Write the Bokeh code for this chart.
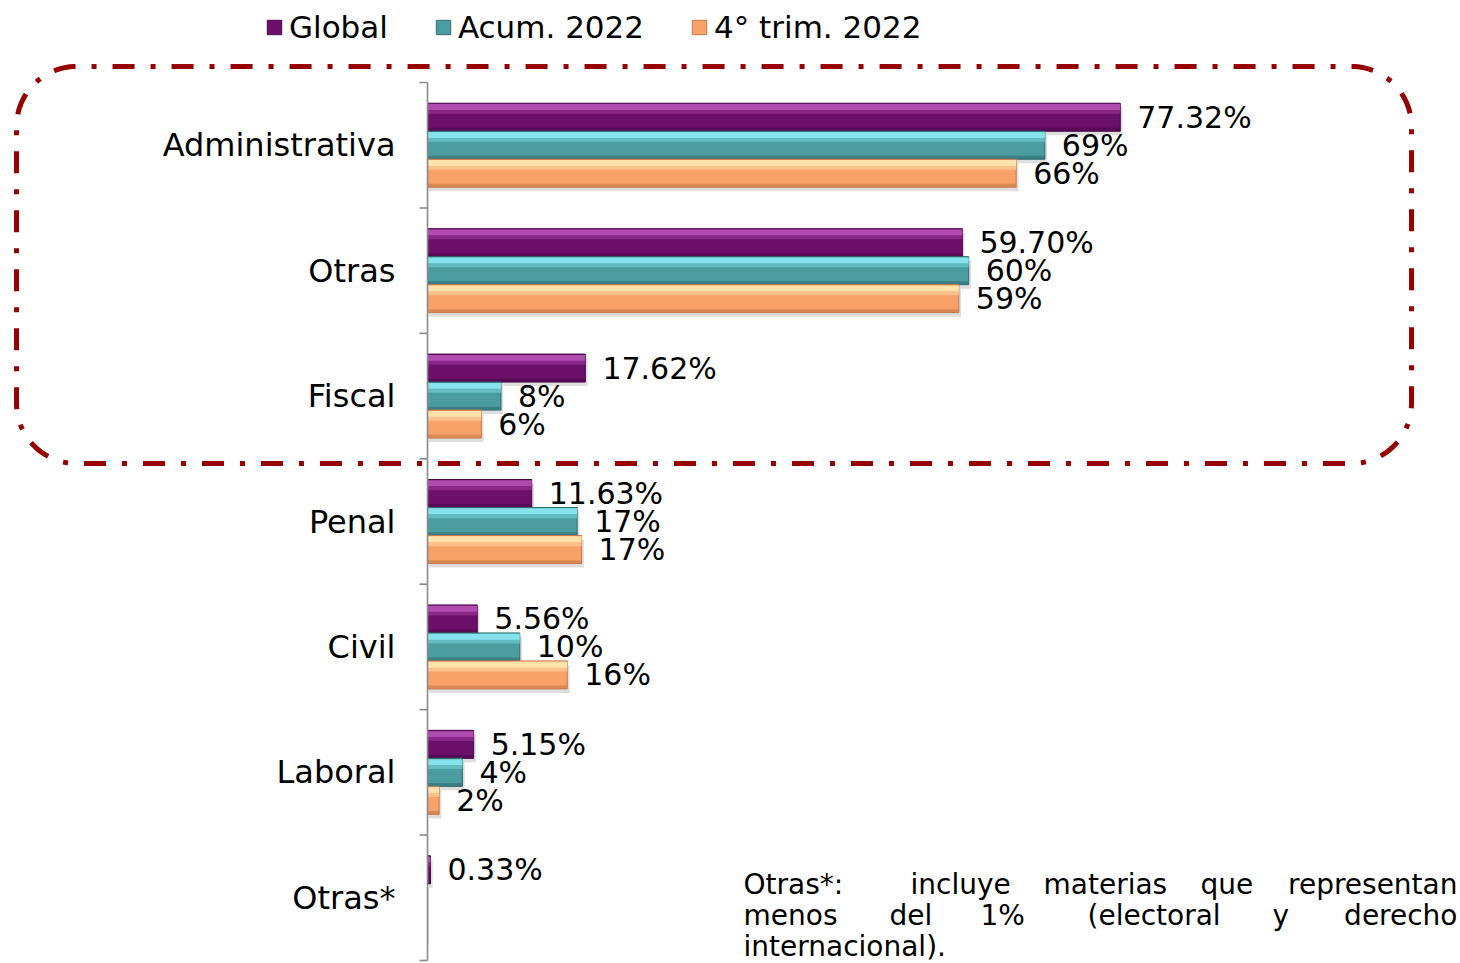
import numpy as np
from bokeh.plotting import figure
from bokeh.models import Range1d, ColumnDataSource, Legend, LegendItem
from bokeh.core.properties import value
from bokeh.embed import file_html
from bokeh.resources import INLINE

# ---------------- data ----------------
categories = ["Administrativa", "Otras", "Fiscal", "Penal", "Civil", "Laboral", "Otras*"]
series_names = ["Global", "Acum. 2022", "4° trim. 2022"]
global_vals = [77.32, 59.70, 17.62, 11.63, 5.56, 5.15, 0.33]
acum_vals = [68.9, 60.4, 8.2, 16.7, 10.3, 3.9, 0.0]
trim_vals = [65.7, 59.3, 6.0, 17.2, 15.6, 1.3, 0.0]
global_labels = ["77.32%", "59.70%", "17.62%", "11.63%", "5.56%", "5.15%", "0.33%"]
acum_labels = ["69%", "60%", "8%", "17%", "10%", "4%", ""]
trim_labels = ["66%", "59%", "6%", "17%", "16%", "2%", ""]
note_line1 = ["Otras*:", "incluye", "materias", "que", "representan"]
note_line2 = ["menos", "del", "1%", "(electoral", "y", "derecho"]
note_line3 = ["internacional)."]

# ---------------- layout helpers (pixel geometry) ----------------
W, H = 1460, 963
X0 = 427.0          # px of 0 %
S = 8.96            # px per 1 %
AX_TOP, AX_BOT = 82.0, 960.0
BAND = (AX_BOT - AX_TOP) / len(categories)
FONT = value("DejaVu Sans")


def rx(px):  # image x px -> data x
    return (px - X0) / S


def ry(py):  # image y px -> data y
    return (AX_BOT - py) / BAND


p = figure(width=W, height=H, output_backend="svg", toolbar_location=None,
           x_range=Range1d(rx(0), rx(W)), y_range=Range1d(ry(H), ry(0)),
           x_axis_location=None, y_axis_location=None, min_border=0,
           background_fill_color="white", border_fill_color="white")
p.outline_line_color = None
p.xgrid.grid_line_color = None
p.ygrid.grid_line_color = None

n = len(categories)
centers = np.array([n - 0.5 - i for i in range(n)])
bh = 28.0 / BAND

styles = [
    dict(base="#6c0f6a", hi="#b04cb0", mid="#8a2888", dark="#4a0748"),
    dict(base="#4a9ca1", hi="#86e3ec", mid="#62bcc2", dark="#2f6d71"),
    dict(base="#f8a168", hi="#ffe2aa", mid="#fcc08a", dark="#c8784a"),
]
vals_list = [global_vals, acum_vals, trim_vals]
labels_list = [global_labels, acum_labels, trim_labels]
offs = [bh, 0.0, -bh]

# shadows
for vals, off in zip(vals_list, offs):
    v = np.array(vals)
    p.hbar(y=centers + off - 4.0 / BAND, left=0.15, right=np.where(v > 0, v + 0.25, 0), height=bh,
           fill_color="black", fill_alpha=0.13, line_color=None)

base_renderers = []
for vals, off, st, lab in zip(vals_list, offs, styles, labels_list):
    v = np.array(vals)
    src = ColumnDataSource(dict(y=centers + off, right=v, lab=lab))
    r = p.hbar(y="y", left=0, right="right", height=bh, source=src,
               fill_color=st["base"], line_color=st["dark"], line_width=1)
    base_renderers.append(r)
    # highlight strips (bevel look)
    p.hbar(y=centers + off + bh / 2 - bh * 0.14, left=0, right=v, height=bh * 0.22,
           fill_color=st["hi"], line_color=None)
    p.hbar(y=centers + off + bh / 2 - bh * 0.31, left=0, right=v, height=bh * 0.14,
           fill_color=st["mid"], line_color=None)
    p.hbar(y=centers + off - bh / 2 + bh * 0.06, left=0, right=v, height=bh * 0.12,
           fill_color=st["dark"], fill_alpha=0.6, line_color=None)
    # value labels
    p.text(x="right", y="y", text="lab", source=src, x_offset=17,
           text_align="left", text_baseline="middle", text_font=FONT,
           text_font_size="30px", text_color="black")

# category axis (drawn through the scales)
p.segment(x0=0, y0=0, x1=0, y1=n, line_color="#8a8a8a", line_width=1.6)
p.ray(x=0, y=np.arange(n + 1), length=8, length_units="screen", angle=np.pi,
      line_color="#8a8a8a", line_width=1.6)
p.text(x=0, y=centers, text=categories, x_offset=-32, text_align="right",
       text_baseline="middle", text_font=FONT, text_font_size="32px", text_color="black")

# rounded dash-dot box
L, R, T, B, rad = 16, 1411, 66, 463, 60
pts = []
for cx, cy, a0, a1 in [(R - rad, T + rad, -90, 0), (R - rad, B - rad, 0, 90),
                       (L + rad, B - rad, 90, 180), (L + rad, T + rad, 180, 270)]:
    a = np.radians(np.linspace(a0, a1, 30))
    pts += [(cx + rad * np.cos(t), cy + rad * np.sin(t)) for t in a]
pts.append(pts[0])
bx = [rx(q[0]) for q in pts]
by = [ry(q[1]) for q in pts]
p.line(bx, by, line_color="#960000", line_width=5, line_dash="22 16 5 16", line_cap="butt")

# footnote (justified)
l1x = [743, 910, 1043, 1200, 1457]
l2x = [743, 889, 980, 1087, 1272, 1457]
l3x = [743]
for words, xs, base in [(note_line1, l1x, 884), (note_line2, l2x, 915), (note_line3, l3x, 946)]:
    aligns = ["left"] * (len(words) - 1) + (["right"] if len(words) > 1 else ["left"])
    p.text(x=[rx(x) for x in xs], y=[ry(base)] * len(words), text=words,
           text_align=aligns, text_baseline="alphabetic", text_font=FONT,
           text_font_size="28px", text_color="black")

# legend
legend = Legend(items=[LegendItem(label=nm, renderers=[r]) for nm, r in zip(series_names, base_renderers)],
                orientation="horizontal", location=(265, 918), glyph_width=18, glyph_height=18,
                label_standoff=6, spacing=46, padding=0, margin=0,
                label_text_font="DejaVu Sans", label_text_font_size="31px",
                label_text_color="black", border_line_color=None, background_fill_alpha=0)
p.add_layout(legend)

open("out.html", "w").write(file_html(p, INLINE))
